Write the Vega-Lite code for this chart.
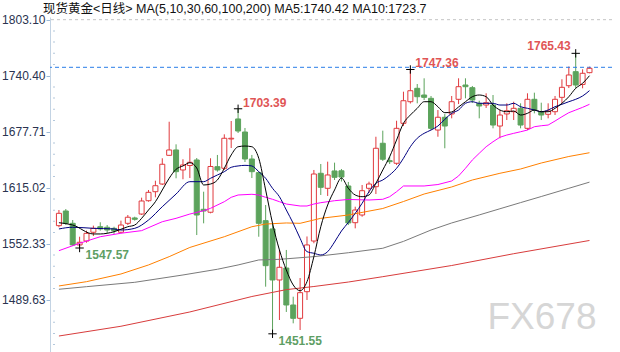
{
  "$schema": "https://vega.github.io/schema/vega-lite/v6.json",
  "width": 562,
  "height": 335,
  "autosize": {"type": "none"},
  "padding": {"left": 50, "top": 17, "right": 8, "bottom": 0},
  "background": "white",
  "title": {
    "text": "现货黄金<日线>    MA(5,10,30,60,100,200) MA5:1740.42   MA10:1723.7",
    "anchor": "start",
    "frame": "group",
    "dx": -7,
    "dy": 4,
    "offset": -11,
    "baseline": "bottom",
    "font": "Liberation Sans, Noto Sans CJK SC",
    "fontSize": 12.5,
    "fontWeight": "normal",
    "color": "#111111"
  },
  "config": {"view": {"stroke": null}},
  "datasets": {
    "one": [{}],
    "minorTicks": [
      {"v":1439.48},{"v":1452.01},{"v":1464.55},{"v":1477.09},
      {"v":1502.17},{"v":1514.71},{"v":1527.25},{"v":1539.79},
      {"v":1564.87},{"v":1577.41},{"v":1589.94},{"v":1602.48},
      {"v":1627.56},{"v":1640.10},{"v":1652.63},{"v":1665.17},
      {"v":1690.25},{"v":1702.79},{"v":1715.32},{"v":1727.86},
      {"v":1752.94},{"v":1765.48},{"v":1778.02},{"v":1790.56}
    ],
    "candles": [
      {"i":0,"o":1572.6,"h":1590.1,"l":1570.8,"c":1586.4},
      {"i":1,"o":1589.0,"h":1591.2,"l":1573.3,"c":1575.2},
      {"i":2,"o":1575.2,"h":1578.9,"l":1549.8,"c":1551.0},
      {"i":3,"o":1551.0,"h":1560.2,"l":1547.57,"c":1554.0},
      {"i":4,"o":1555.4,"h":1567.0,"l":1553.5,"c":1564.0},
      {"i":5,"o":1565.2,"h":1572.6,"l":1561.0,"c":1569.6},
      {"i":6,"o":1571.4,"h":1576.4,"l":1567.0,"c":1568.9},
      {"i":7,"o":1570.8,"h":1573.3,"l":1564.1,"c":1567.7},
      {"i":8,"o":1569.6,"h":1571.4,"l":1563.3,"c":1567.0},
      {"i":9,"o":1565.2,"h":1578.2,"l":1564.1,"c":1573.3},
      {"i":10,"o":1575.2,"h":1584.5,"l":1573.3,"c":1582.0},
      {"i":11,"o":1581.2,"h":1582.6,"l":1578.2,"c":1579.7},
      {"i":12,"o":1585.6,"h":1603.9,"l":1584.5,"c":1600.2},
      {"i":13,"o":1600.5,"h":1612.5,"l":1599.4,"c":1609.9},
      {"i":14,"o":1610.6,"h":1622.9,"l":1604.3,"c":1617.3},
      {"i":15,"o":1619.2,"h":1648.0,"l":1618.1,"c":1641.3},
      {"i":16,"o":1651.3,"h":1688.9,"l":1650.6,"c":1657.3},
      {"i":17,"o":1657.3,"h":1663.6,"l":1625.6,"c":1633.0},
      {"i":18,"o":1634.9,"h":1646.9,"l":1624.5,"c":1640.5},
      {"i":19,"o":1639.9,"h":1659.2,"l":1625.9,"c":1643.5},
      {"i":20,"o":1646.1,"h":1648.3,"l":1562.1,"c":1584.5},
      {"i":21,"o":1590.9,"h":1610.6,"l":1575.2,"c":1589.0},
      {"i":22,"o":1587.6,"h":1648.0,"l":1586.4,"c":1638.8},
      {"i":23,"o":1638.6,"h":1651.7,"l":1633.0,"c":1634.9},
      {"i":24,"o":1636.8,"h":1674.8,"l":1634.9,"c":1670.4},
      {"i":25,"o":1669.6,"h":1689.7,"l":1659.5,"c":1670.4},
      {"i":26,"o":1692.0,"h":1703.39,"l":1676.3,"c":1678.5},
      {"i":27,"o":1677.4,"h":1681.9,"l":1643.8,"c":1647.2},
      {"i":28,"o":1647.2,"h":1651.7,"l":1625.9,"c":1633.0},
      {"i":29,"o":1631.9,"h":1633.0,"l":1560.2,"c":1575.2},
      {"i":30,"o":1578.2,"h":1595.7,"l":1504.3,"c":1527.8},
      {"i":31,"o":1568.9,"h":1575.2,"l":1451.55,"c":1511.8},
      {"i":32,"o":1511.8,"h":1545.4,"l":1467.0,"c":1526.0},
      {"i":33,"o":1525.2,"h":1545.4,"l":1476.0,"c":1483.8},
      {"i":34,"o":1483.8,"h":1493.1,"l":1463.3,"c":1468.9},
      {"i":35,"o":1468.9,"h":1514.0,"l":1455.8,"c":1497.6},
      {"i":36,"o":1498.7,"h":1560.5,"l":1489.4,"c":1551.0},
      {"i":37,"o":1555.4,"h":1634.9,"l":1552.9,"c":1630.4},
      {"i":38,"o":1631.2,"h":1641.6,"l":1606.9,"c":1615.5},
      {"i":39,"o":1614.4,"h":1644.2,"l":1605.8,"c":1629.3},
      {"i":40,"o":1633.8,"h":1643.1,"l":1623.7,"c":1626.7},
      {"i":41,"o":1634.0,"h":1636.0,"l":1622.0,"c":1627.0},
      {"i":42,"o":1617.0,"h":1621.5,"l":1573.3,"c":1575.6},
      {"i":43,"o":1575.9,"h":1593.8,"l":1569.6,"c":1590.1},
      {"i":44,"o":1584.5,"h":1618.1,"l":1582.6,"c":1611.7},
      {"i":45,"o":1614.4,"h":1621.8,"l":1609.1,"c":1619.2},
      {"i":46,"o":1616.2,"h":1672.1,"l":1608.0,"c":1659.2},
      {"i":47,"o":1664.8,"h":1678.9,"l":1645.0,"c":1646.9},
      {"i":48,"o":1645.3,"h":1649.8,"l":1641.6,"c":1644.2},
      {"i":49,"o":1642.4,"h":1690.0,"l":1640.5,"c":1681.5},
      {"i":50,"o":1687.1,"h":1722.5,"l":1684.1,"c":1712.4},
      {"i":51,"o":1711.3,"h":1747.36,"l":1709.3,"c":1723.6},
      {"i":52,"o":1726.3,"h":1731.1,"l":1709.5,"c":1716.9},
      {"i":53,"o":1718.8,"h":1737.5,"l":1713.2,"c":1716.2},
      {"i":54,"o":1715.1,"h":1717.7,"l":1679.6,"c":1681.5},
      {"i":55,"o":1679.6,"h":1702.0,"l":1672.1,"c":1693.9},
      {"i":56,"o":1693.9,"h":1697.6,"l":1659.2,"c":1684.1},
      {"i":57,"o":1697.6,"h":1717.7,"l":1692.7,"c":1711.3},
      {"i":58,"o":1714.0,"h":1737.5,"l":1708.7,"c":1728.1},
      {"i":59,"o":1730.0,"h":1737.5,"l":1715.1,"c":1728.1},
      {"i":60,"o":1727.0,"h":1728.9,"l":1709.9,"c":1713.2},
      {"i":61,"o":1709.5,"h":1712.4,"l":1692.7,"c":1706.5},
      {"i":62,"o":1707.6,"h":1720.7,"l":1704.3,"c":1710.2},
      {"i":63,"o":1707.6,"h":1718.8,"l":1681.5,"c":1685.2},
      {"i":64,"o":1684.1,"h":1702.0,"l":1670.4,"c":1696.4},
      {"i":65,"o":1697.6,"h":1709.5,"l":1690.8,"c":1701.2},
      {"i":66,"o":1700.1,"h":1711.3,"l":1690.8,"c":1703.9},
      {"i":67,"o":1703.9,"h":1709.5,"l":1681.5,"c":1685.2},
      {"i":68,"o":1681.5,"h":1720.7,"l":1679.6,"c":1714.0},
      {"i":69,"o":1714.0,"h":1721.4,"l":1698.3,"c":1702.0},
      {"i":70,"o":1700.1,"h":1710.2,"l":1690.8,"c":1696.4},
      {"i":71,"o":1697.2,"h":1709.5,"l":1692.7,"c":1700.9},
      {"i":72,"o":1700.1,"h":1717.7,"l":1696.4,"c":1714.0},
      {"i":73,"o":1716.2,"h":1736.4,"l":1709.5,"c":1727.4},
      {"i":74,"o":1729.2,"h":1750.7,"l":1726.6,"c":1741.2},
      {"i":75,"o":1744.9,"h":1765.43,"l":1726.6,"c":1730.0},
      {"i":76,"o":1730.6,"h":1747.6,"l":1726.3,"c":1743.1},
      {"i":77,"o":1743.8,"h":1750.5,"l":1743.1,"c":1748.7}
    ],
    "ma5": [
      {"i":0,"v":1575.9},{"i":2,"v":1573.3},{"i":5,"v":1563.3},{"i":6,"v":1563.3},{"i":8,"v":1565.8},
      {"i":10,"v":1571.4},{"i":11,"v":1573.3},{"i":12,"v":1580.8},{"i":13,"v":1590.1},{"i":14,"v":1599.4},
      {"i":15,"v":1612.5},{"i":16,"v":1625.6},{"i":17,"v":1635.7},{"i":18,"v":1639.4},{"i":19,"v":1643.0},
      {"i":20,"v":1637.1},{"i":21,"v":1618.1},{"i":22,"v":1619.2},{"i":23,"v":1623.7},{"i":24,"v":1636.8},
      {"i":25,"v":1651.7},{"i":26,"v":1660.9},{"i":27,"v":1661.7},{"i":28,"v":1660.9},{"i":29,"v":1648.0},
      {"i":30,"v":1612.5},{"i":31,"v":1575.2},{"i":32,"v":1545.4},{"i":33,"v":1523.0},{"i":34,"v":1506.2},
      {"i":35,"v":1499.8},{"i":36,"v":1509.9},{"i":37,"v":1537.9},{"i":38,"v":1571.4},{"i":39,"v":1595.7},
      {"i":40,"v":1612.5},{"i":41,"v":1625.9},{"i":42,"v":1614.4},{"i":43,"v":1606.9},{"i":44,"v":1605.0},
      {"i":45,"v":1606.9},{"i":46,"v":1620.0},{"i":47,"v":1634.9},{"i":48,"v":1649.8},{"i":49,"v":1668.4},
      {"i":50,"v":1687.1},{"i":51,"v":1696.4},{"i":52,"v":1703.9},{"i":53,"v":1711.3},{"i":54,"v":1711.3},
      {"i":55,"v":1705.7},{"i":56,"v":1699.0},{"i":57,"v":1699.8},{"i":58,"v":1705.4},{"i":59,"v":1711.3},
      {"i":60,"v":1716.9},{"i":61,"v":1718.8},{"i":62,"v":1716.9},{"i":63,"v":1707.6},{"i":64,"v":1702.0},
      {"i":65,"v":1700.1},{"i":66,"v":1700.9},{"i":67,"v":1696.4},{"i":68,"v":1698.3},{"i":69,"v":1702.0},
      {"i":70,"v":1700.1},{"i":71,"v":1700.1},{"i":72,"v":1703.9},{"i":73,"v":1709.5},{"i":74,"v":1716.9},
      {"i":75,"v":1726.3},{"i":76,"v":1731.9},{"i":77,"v":1740.4}
    ],
    "ma10": [
      {"i":0,"v":1568.9},{"i":2,"v":1570.8},{"i":5,"v":1569.6},{"i":8,"v":1568.9},{"i":9,"v":1567.7},
      {"i":11,"v":1569.6},{"i":13,"v":1578.9},{"i":15,"v":1593.8},{"i":17,"v":1608.0},{"i":19,"v":1621.8},
      {"i":21,"v":1621.8},{"i":22,"v":1625.6},{"i":23,"v":1629.3},{"i":24,"v":1633.0},{"i":25,"v":1637.9},
      {"i":26,"v":1639.4},{"i":27,"v":1640.1},{"i":28,"v":1639.4},{"i":29,"v":1633.0},{"i":30,"v":1625.6},
      {"i":31,"v":1614.4},{"i":32,"v":1605.0},{"i":33,"v":1590.1},{"i":34,"v":1575.2},{"i":35,"v":1558.4},
      {"i":36,"v":1543.5},{"i":37,"v":1541.7},{"i":38,"v":1539.8},{"i":39,"v":1543.5},{"i":40,"v":1554.3},
      {"i":41,"v":1566.6},{"i":42,"v":1576.1},{"i":43,"v":1586.4},{"i":44,"v":1597.6},{"i":45,"v":1610.6},
      {"i":46,"v":1620.0},{"i":47,"v":1623.7},{"i":48,"v":1629.3},{"i":49,"v":1636.8},{"i":50,"v":1648.0},
      {"i":51,"v":1660.9},{"i":52,"v":1670.4},{"i":53,"v":1675.9},{"i":54,"v":1679.6},{"i":55,"v":1684.1},
      {"i":56,"v":1691.6},{"i":57,"v":1698.3},{"i":58,"v":1702.0},{"i":59,"v":1709.5},{"i":60,"v":1711.3},
      {"i":61,"v":1709.5},{"i":62,"v":1709.5},{"i":63,"v":1709.5},{"i":64,"v":1707.6},{"i":65,"v":1707.6},
      {"i":66,"v":1709.5},{"i":67,"v":1705.7},{"i":68,"v":1703.9},{"i":69,"v":1702.0},{"i":70,"v":1700.1},
      {"i":71,"v":1702.0},{"i":72,"v":1705.7},{"i":73,"v":1708.4},{"i":74,"v":1711.3},{"i":75,"v":1714.0},
      {"i":76,"v":1717.7},{"i":77,"v":1723.7}
    ],
    "ma30": [
      {"i":0,"v":1544.6},{"i":3,"v":1552.9},{"i":6,"v":1560.2},{"i":9,"v":1564.1},{"i":12,"v":1567.0},
      {"i":15,"v":1577.0},{"i":17,"v":1580.8},{"i":19,"v":1585.6},{"i":21,"v":1589.3},{"i":22,"v":1592.0},
      {"i":24,"v":1599.4},{"i":25,"v":1604.3},{"i":26,"v":1606.9},{"i":28,"v":1607.7},{"i":29,"v":1606.9},
      {"i":30,"v":1604.3},{"i":31,"v":1602.1},{"i":32,"v":1599.4},{"i":33,"v":1596.8},{"i":35,"v":1594.6},
      {"i":36,"v":1594.6},{"i":37,"v":1596.8},{"i":38,"v":1598.3},{"i":40,"v":1600.5},{"i":42,"v":1601.9},
      {"i":45,"v":1601.3},{"i":47,"v":1602.1},{"i":48,"v":1605.0},{"i":49,"v":1610.6},{"i":50,"v":1617.0},
      {"i":53,"v":1617.0},{"i":55,"v":1618.6},{"i":57,"v":1622.6},{"i":58,"v":1628.2},{"i":59,"v":1636.8},
      {"i":60,"v":1646.1},{"i":61,"v":1653.6},{"i":62,"v":1660.9},{"i":63,"v":1666.5},{"i":64,"v":1671.5},
      {"i":65,"v":1674.0},{"i":66,"v":1675.9},{"i":67,"v":1677.7},{"i":68,"v":1679.6},{"i":69,"v":1683.3},
      {"i":70,"v":1684.4},{"i":71,"v":1685.2},{"i":72,"v":1689.7},{"i":73,"v":1694.5},{"i":74,"v":1699.0},
      {"i":75,"v":1702.0},{"i":76,"v":1705.0},{"i":77,"v":1708.4}
    ],
    "ma60": [
      {"i":0,"v":1505.1},{"i":4,"v":1509.9},{"i":9,"v":1518.5},{"i":13,"v":1528.6},{"i":16,"v":1537.9},
      {"i":19,"v":1548.2},{"i":24,"v":1560.2},{"i":28,"v":1571.4},{"i":30,"v":1574.4},{"i":33,"v":1575.6},
      {"i":35,"v":1575.2},{"i":38,"v":1580.8},{"i":42,"v":1584.5},{"i":47,"v":1591.8},{"i":50,"v":1599.6},
      {"i":53,"v":1608.0},{"i":57,"v":1615.9},{"i":60,"v":1623.7},{"i":64,"v":1631.2},{"i":67,"v":1636.0},
      {"i":70,"v":1642.7},{"i":74,"v":1650.0},{"i":77,"v":1654.2}
    ],
    "ma100": [
      {"i":0,"v":1501.4},{"i":4,"v":1504.3},{"i":11,"v":1509.2},{"i":18,"v":1517.4},{"i":23,"v":1523.8},
      {"i":26,"v":1528.6},{"i":29,"v":1534.2},{"i":32,"v":1534.9},{"i":37,"v":1537.9},{"i":42,"v":1542.3},
      {"i":47,"v":1547.3},{"i":50,"v":1555.0},{"i":54,"v":1567.7},{"i":57,"v":1575.6},{"i":61,"v":1584.6},
      {"i":64,"v":1591.5},{"i":67,"v":1598.4},{"i":70,"v":1605.2},{"i":74,"v":1614.4},{"i":77,"v":1621.3}
    ],
    "ma200": [
      {"i":0,"v":1449.1},{"i":9,"v":1460.0},{"i":19,"v":1476.0},{"i":28,"v":1493.3},{"i":33,"v":1501.0},
      {"i":37,"v":1504.5},{"i":42,"v":1509.5},{"i":47,"v":1515.5},{"i":57,"v":1528.0},{"i":66,"v":1541.2},
      {"i":77,"v":1556.0}
    ],
    "highsLeft": [
      {"i":26,"v":1703.39,"t":"1703.39"},
      {"i":51,"v":1747.36,"t":"1747.36"}
    ],
    "highsRight": [
      {"i":75,"v":1765.43,"t":"1765.43"}
    ],
    "lows": [
      {"i":3,"v":1547.57,"t":"1547.57"},
      {"i":31,"v":1451.55,"t":"1451.55"}
    ],
    "extremes": [
      {"i":26,"v":1703.39},{"i":51,"v":1747.36},{"i":75,"v":1765.43},
      {"i":3,"v":1547.57},{"i":31,"v":1451.55}
    ]
  },
  "layer": [
    {
      "data": {"name": "candles"},
      "mark": {"type": "rule", "strokeWidth": 1},
      "encoding": {
        "x": {"field": "i", "type": "quantitative", "scale": {"domain": [-0.57, 79.54], "nice": false, "zero": false}, "axis": null},
        "y": {"field": "l", "type": "quantitative", "scale": {"domain": [1431.2, 1806.1], "nice": false, "zero": false},
          "axis": {
            "title": null,
            "orient": "left",
            "values": [1489.63, 1552.33, 1615.02, 1677.71, 1740.40, 1803.10],
            "format": ".2f",
            "labelOverlap": false,
            "labelFont": "Liberation Sans",
            "labelFontSize": 12,
            "labelColor": "#2a3350",
            "labelPadding": 1,
            "labelBound": false,
            "labelFlush": false,
            "grid": false,
            "domainColor": "#c3d3e3",
            "tickColor": "#9cbad8",
            "tickSize": 4
          }
        },
        "y2": {"field": "h"},
        "color": {"condition": {"test": "datum.c >= datum.o", "value": "#e03a3e"}, "value": "#5ca35c"}
      }
    },
    {
      "data": {"name": "minorTicks"},
      "mark": {"type": "tick", "orient": "horizontal", "size": 2, "thickness": 1, "xOffset": -1, "color": "#b4c8dc", "opacity": 1},
      "encoding": {
        "x": {"datum": -0.57, "type": "quantitative", "scale": {"domain": [-0.57, 79.54], "nice": false, "zero": false}, "axis": null},
        "y": {"field": "v", "type": "quantitative", "title": null, "scale": {"domain": [1431.2, 1806.1], "nice": false, "zero": false}}
      }
    },
    {
      "data": {"name": "one"},
      "mark": {"type": "rule", "color": "#c4c4c4", "strokeDash": [3, 3], "strokeWidth": 1},
      "encoding": {
        "y": {"datum": 1803.1, "type": "quantitative", "title": null,
          "scale": {"domain": [1431.2, 1806.1], "nice": false, "zero": false}}
      }
    },
    {
      "data": {"name": "one"},
      "mark": {"type": "rule", "color": "#2a7de8", "strokeDash": [4, 3], "strokeWidth": 1},
      "encoding": {
        "y": {"datum": 1749.8, "type": "quantitative", "title": null,
          "scale": {"domain": [1431.2, 1806.1], "nice": false, "zero": false}}
      }
    },
    {
      "data": {"name": "candles"},
      "mark": {"type": "bar", "size": 5, "strokeWidth": 1},
      "encoding": {
        "x": {"field": "i", "type": "quantitative", "scale": {"domain": [-0.57, 79.54], "nice": false, "zero": false}, "axis": null},
        "y": {"field": "o", "type": "quantitative", "title": null, "scale": {"domain": [1431.2, 1806.1], "nice": false, "zero": false}},
        "y2": {"field": "c"},
        "fill": {"condition": {"test": "datum.c >= datum.o", "value": "#ffffff"}, "value": "#5ca35c"},
        "stroke": {"condition": {"test": "datum.c >= datum.o", "value": "#e03a3e"}, "value": "#5ca35c"}
      }
    },
    {
      "data": {"name": "ma200"},
      "mark": {"type": "line", "color": "#d83c3c", "strokeWidth": 1},
      "encoding": {
        "x": {"field": "i", "type": "quantitative", "scale": {"domain": [-0.57, 79.54], "nice": false, "zero": false}, "axis": null},
        "y": {"field": "v", "type": "quantitative", "title": null, "scale": {"domain": [1431.2, 1806.1], "nice": false, "zero": false}}
      }
    },
    {
      "data": {"name": "ma100"},
      "mark": {"type": "line", "color": "#7a7a7a", "strokeWidth": 1},
      "encoding": {
        "x": {"field": "i", "type": "quantitative", "scale": {"domain": [-0.57, 79.54], "nice": false, "zero": false}, "axis": null},
        "y": {"field": "v", "type": "quantitative", "title": null, "scale": {"domain": [1431.2, 1806.1], "nice": false, "zero": false}}
      }
    },
    {
      "data": {"name": "ma60"},
      "mark": {"type": "line", "color": "#ff8000", "strokeWidth": 1},
      "encoding": {
        "x": {"field": "i", "type": "quantitative", "scale": {"domain": [-0.57, 79.54], "nice": false, "zero": false}, "axis": null},
        "y": {"field": "v", "type": "quantitative", "title": null, "scale": {"domain": [1431.2, 1806.1], "nice": false, "zero": false}}
      }
    },
    {
      "data": {"name": "ma30"},
      "mark": {"type": "line", "color": "#ff00ff", "strokeWidth": 1},
      "encoding": {
        "x": {"field": "i", "type": "quantitative", "scale": {"domain": [-0.57, 79.54], "nice": false, "zero": false}, "axis": null},
        "y": {"field": "v", "type": "quantitative", "title": null, "scale": {"domain": [1431.2, 1806.1], "nice": false, "zero": false}}
      }
    },
    {
      "data": {"name": "ma10"},
      "mark": {"type": "line", "color": "#000080", "strokeWidth": 1, "interpolate": "monotone"},
      "encoding": {
        "x": {"field": "i", "type": "quantitative", "scale": {"domain": [-0.57, 79.54], "nice": false, "zero": false}, "axis": null},
        "y": {"field": "v", "type": "quantitative", "title": null, "scale": {"domain": [1431.2, 1806.1], "nice": false, "zero": false}}
      }
    },
    {
      "data": {"name": "ma5"},
      "mark": {"type": "line", "color": "#000000", "strokeWidth": 1, "interpolate": "monotone"},
      "encoding": {
        "x": {"field": "i", "type": "quantitative", "scale": {"domain": [-0.57, 79.54], "nice": false, "zero": false}, "axis": null},
        "y": {"field": "v", "type": "quantitative", "title": null, "scale": {"domain": [1431.2, 1806.1], "nice": false, "zero": false}}
      }
    },
    {
      "data": {"name": "extremes"},
      "mark": {"type": "point", "shape": "M-1,0L1,0M0,-1L0,1", "size": 70, "filled": false, "stroke": "#000000", "strokeWidth": 1, "opacity": 1},
      "encoding": {
        "x": {"field": "i", "type": "quantitative", "scale": {"domain": [-0.57, 79.54], "nice": false, "zero": false}, "axis": null},
        "y": {"field": "v", "type": "quantitative", "title": null, "scale": {"domain": [1431.2, 1806.1], "nice": false, "zero": false}}
      }
    },
    {
      "data": {"name": "highsLeft"},
      "mark": {"type": "text", "align": "left", "baseline": "alphabetic", "dx": 5, "dy": -2, "font": "Liberation Sans", "fontSize": 12, "fontWeight": "bold", "color": "#e05555"},
      "encoding": {
        "x": {"field": "i", "type": "quantitative", "scale": {"domain": [-0.57, 79.54], "nice": false, "zero": false}, "axis": null},
        "y": {"field": "v", "type": "quantitative", "title": null, "scale": {"domain": [1431.2, 1806.1], "nice": false, "zero": false}},
        "text": {"field": "t"}
      }
    },
    {
      "data": {"name": "highsRight"},
      "mark": {"type": "text", "align": "right", "baseline": "alphabetic", "dx": -5, "dy": -3, "font": "Liberation Sans", "fontSize": 12, "fontWeight": "bold", "color": "#e05555"},
      "encoding": {
        "x": {"field": "i", "type": "quantitative", "scale": {"domain": [-0.57, 79.54], "nice": false, "zero": false}, "axis": null},
        "y": {"field": "v", "type": "quantitative", "title": null, "scale": {"domain": [1431.2, 1806.1], "nice": false, "zero": false}},
        "text": {"field": "t"}
      }
    },
    {
      "data": {"name": "lows"},
      "mark": {"type": "text", "align": "left", "baseline": "top", "dx": 6, "dy": 2, "font": "Liberation Sans", "fontSize": 12, "fontWeight": "bold", "color": "#5e9e64"},
      "encoding": {
        "x": {"field": "i", "type": "quantitative", "scale": {"domain": [-0.57, 79.54], "nice": false, "zero": false}, "axis": null},
        "y": {"field": "v", "type": "quantitative", "title": null, "scale": {"domain": [1431.2, 1806.1], "nice": false, "zero": false}},
        "text": {"field": "t"}
      }
    },
    {
      "data": {"name": "one"},
      "mark": {"type": "text", "text": "FX678", "align": "center", "baseline": "middle", "font": "Liberation Sans", "fontSize": 37, "color": "#d6d6d6"},
      "encoding": {
        "x": {"datum": 70.1, "type": "quantitative", "scale": {"domain": [-0.57, 79.54], "nice": false, "zero": false}, "axis": null},
        "y": {"datum": 1469.3, "type": "quantitative", "title": null, "scale": {"domain": [1431.2, 1806.1], "nice": false, "zero": false}}
      }
    }
  ]
}
